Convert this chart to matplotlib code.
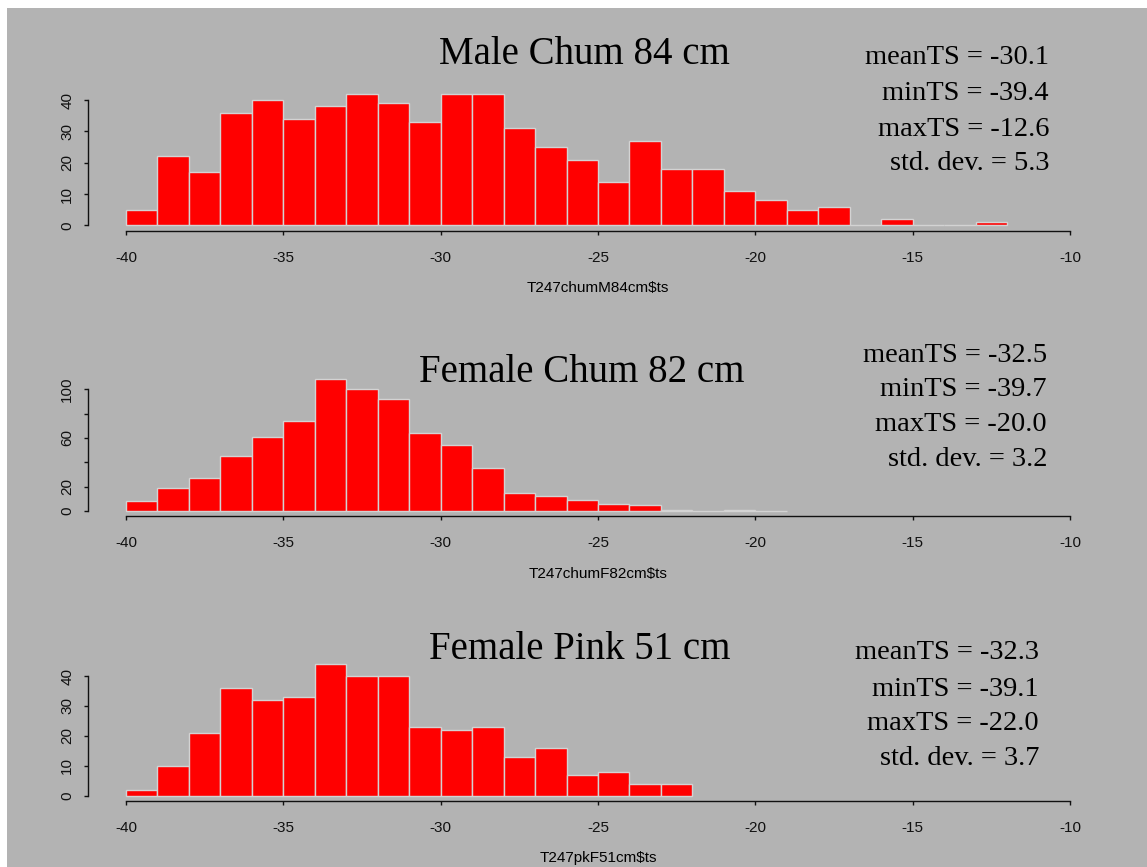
import matplotlib
matplotlib.use("Agg")
import matplotlib.pyplot as plt
from matplotlib.patches import Rectangle
import numpy as np

# ---------------- data ----------------
bin_start = -40
male_counts = [5, 22, 17, 36, 40, 34, 38, 42, 39, 33, 42, 42, 31, 25, 21,
               14, 27, 18, 18, 11, 8, 5, 6, 0, 2, 0, 0, 1]
fchum_counts = [8, 19, 27, 45, 61, 74, 108, 100, 92, 64, 54, 35, 15, 12, 9,
                6, 5, 1, 0, 1, 0]
pink_counts = [2, 10, 21, 36, 32, 33, 44, 40, 40, 23, 22, 23, 13, 16, 7, 8, 4, 4]

titles = ["Male Chum 84 cm", "Female Chum 82 cm", "Female Pink 51 cm"]
xlabels = ["T247chumM84cm$ts", "T247chumF82cm$ts", "T247pkF51cm$ts"]
stats = [
    ["meanTS = -30.1", "minTS = -39.4", "maxTS = -12.6", "std. dev. = 5.3"],
    ["meanTS = -32.5", "minTS = -39.7", "maxTS = -20.0", "std. dev. = 3.2"],
    ["meanTS = -32.3", "minTS = -39.1", "maxTS = -22.0", "std. dev. = 3.7"],
]
xticks = [-40, -35, -30, -25, -20, -15, -10]
yticks = [[0, 10, 20, 30, 40], [0, 20, 40, 60, 80, 100], [0, 10, 20, 30, 40]]
yticklabels = [["0", "10", "20", "30", "40"],
               ["0", "20", "", "60", "", "100"],
               ["0", "10", "20", "30", "40"]]
all_counts = [male_counts, fchum_counts, pink_counts]

# ---------------- layout ----------------
W, H = 1147, 867
fig = plt.figure(figsize=(W / 100, H / 100), dpi=100)
fig.patch.set_facecolor("white")
fig.patches.append(Rectangle((7 / W, 0), 1, (H - 8) / H, transform=fig.transFigure,
                             facecolor="#B3B3B3", edgecolor="none", zorder=-10))

def fx(px):
    return px / W

def fy(py):
    return 1 - py / H

ax_left, ax_right = 88.2, 1107.8
ax_tops = [88.6, 374.2, 658.8]
ax_h = 142.0

title_pos = [(584.5, 64.0), (582.0, 381.7), (580.0, 659.3)]
stat_right = [1049, 1047, 1039]
stat_base = [[64, 100.5, 135.5, 170.5],
             [361.7, 396.5, 431.3, 466.2],
             [659.3, 695.5, 730.3, 765.3]]

sans = ["Liberation Sans", "DejaVu Sans"]
serif = ["Liberation Serif", "DejaVu Serif"]

for i in range(3):
    counts = all_counts[i]
    top = ax_tops[i]
    ax = fig.add_axes([fx(ax_left), fy(top + ax_h), fx(ax_right - ax_left), ax_h / H])
    ax.set_facecolor("none")
    lefts = bin_start + np.arange(len(counts))
    ax.bar(lefts, counts, width=1.0, align="edge", color="#FF0000",
           edgecolor="#D3D3D3", linewidth=1.0)
    ymax = max(counts)
    ax.set_xlim(-41.2, -8.8)
    ax.set_ylim(-0.04 * ymax, 1.04 * ymax)
    for s in ["top", "right"]:
        ax.spines[s].set_visible(False)
    for s in ["left", "bottom"]:
        ax.spines[s].set_color("#111111")
        ax.spines[s].set_linewidth(1.0)
    ax.spines["bottom"].set_bounds(-40, -10)
    ax.spines["left"].set_bounds(yticks[i][0], yticks[i][-1])
    ax.set_xticks(xticks)
    ax.set_xticklabels([str(v) for v in xticks], family=sans, fontsize=11)
    ax.set_yticks(yticks[i])
    ax.set_yticklabels(yticklabels[i], family=sans, fontsize=11,
                       rotation=90, va="center")
    ax.tick_params(axis="x", length=3, width=1, pad=11.5, colors="#111111")
    ax.tick_params(axis="y", length=3, width=1, pad=7, colors="#111111")
    # x label
    fig.text(fx((ax_left + ax_right) / 2), fy(top + ax_h + 57.4), xlabels[i],
             family=sans, fontsize=11, ha="center", va="center", color="black")
    # title
    tx, ty = title_pos[i]
    fig.text(fx(tx), fy(ty), titles[i], family=serif, fontsize=28,
             ha="center", va="baseline", color="black")
    # stats
    for j, s in enumerate(stats[i]):
        fig.text(fx(stat_right[i]), fy(stat_base[i][j]), s, family=serif,
                 fontsize=20.5, ha="right", va="baseline", color="black")

fig.savefig("out.png", dpi=100, facecolor=fig.get_facecolor())
